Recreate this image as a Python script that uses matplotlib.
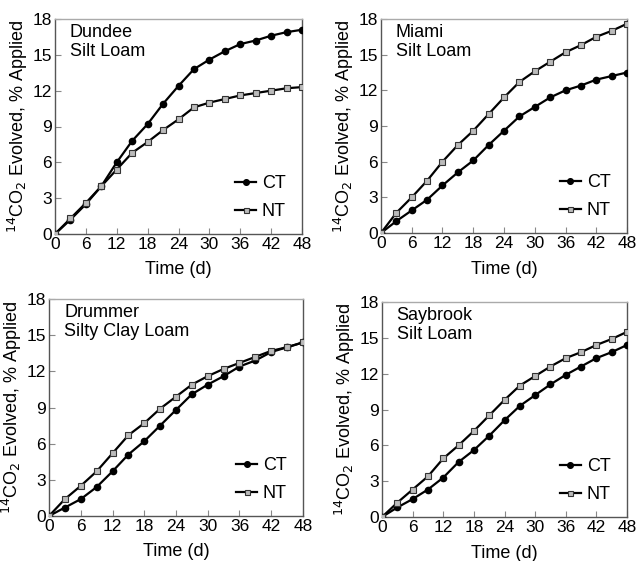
import numpy as np
import matplotlib.pyplot as plt

plt.rcParams['font.family'] = ['Liberation Sans', 'DejaVu Sans']

days = [0, 3, 6, 9, 12, 15, 18, 21, 24, 27, 30, 33, 36, 39, 42, 45, 48]

# 土壤名称
soils = ["Dundee\nSilt Loam", "Miami\nSilt Loam", "Drummer\nSilty Clay Loam", "Saybrook\nSilt Loam"]

dundee_ct = [0, 1.2, 2.5, 4.0, 6.0, 7.8, 9.2, 10.9, 12.4, 13.8, 14.6, 15.3, 15.9, 16.2, 16.6, 16.9, 17.1]
dundee_nt = [0, 1.3, 2.6, 4.0, 5.4, 6.8, 7.7, 8.7, 9.6, 10.6, 11.0, 11.3, 11.6, 11.8, 12.0, 12.2, 12.3]

miami_ct = [0, 1.0, 1.9, 2.8, 4.0, 5.1, 6.1, 7.4, 8.6, 9.8, 10.6, 11.4, 12.0, 12.4, 12.9, 13.2, 13.5]
miami_nt = [0, 1.7, 3.0, 4.4, 6.0, 7.4, 8.6, 10.0, 11.4, 12.7, 13.6, 14.4, 15.2, 15.8, 16.5, 17.0, 17.6]

drummer_ct = [0, 0.7, 1.4, 2.4, 3.7, 5.1, 6.2, 7.5, 8.8, 10.1, 10.9, 11.6, 12.4, 12.9, 13.6, 14.0, 14.4]
drummer_nt = [0, 1.4, 2.5, 3.7, 5.2, 6.7, 7.7, 8.9, 9.9, 10.9, 11.6, 12.2, 12.7, 13.2, 13.7, 14.0, 14.4]

saybrook_ct = [0, 0.8, 1.5, 2.3, 3.3, 4.6, 5.6, 6.8, 8.1, 9.3, 10.2, 11.1, 11.9, 12.6, 13.3, 13.8, 14.4]
saybrook_nt = [0, 1.2, 2.3, 3.4, 4.9, 6.0, 7.2, 8.5, 9.8, 11.0, 11.8, 12.6, 13.3, 13.8, 14.4, 14.9, 15.5]

ct_data = [dundee_ct, miami_ct, drummer_ct, saybrook_ct]
nt_data = [dundee_nt, miami_nt, drummer_nt, saybrook_nt]

# 各子图位置 (像素 -> 比例)
W, H = 638, 561
boxes = [(55, 19, 302, 234), (381, 19, 627, 233), (49, 299, 303, 516), (382, 302, 627, 517)]

fig = plt.figure(figsize=(W / 100, H / 100), dpi=100)

for i in range(4):
    x0, y0, x1, y1 = boxes[i]
    ax = fig.add_axes([x0 / W, 1 - y1 / H, (x1 - x0) / W, (y1 - y0) / H])
    ax.plot(days, ct_data[i], color='black', lw=1.6, marker='o', ms=4.5,
            mfc='black', mec='black', label='CT', zorder=3)
    ax.plot(days, nt_data[i], color='black', lw=1.6, marker='s', ms=4,
            mfc='#bbbbbb', mec='#333333', mew=0.8, label='NT', zorder=3)
    ax.set_xlim(0, 48)
    ax.set_ylim(0, 18)
    ax.set_xticks(np.arange(0, 49, 6))
    ax.set_yticks(np.arange(0, 19, 3))
    ax.tick_params(direction='in', length=4, width=0.8, color='#888888',
                   labelsize=12.5, pad=2)
    for s in ['left', 'bottom', 'right']:
        ax.spines[s].set_color('#555555')
        ax.spines[s].set_linewidth(1.0)
    ax.spines['top'].set_color('#aaaaaa')
    ax.spines['top'].set_linewidth(1.0)
    ax.set_xlabel('Time (d)', fontsize=13, labelpad=7)
    ax.set_ylabel('$^{14}$CO$_2$ Evolved, % Applied', fontsize=13, labelpad=2)
    ax.text(0.06, 0.975, soils[i], transform=ax.transAxes, fontsize=13,
            va='top', ha='left', linespacing=1.15)
    ax.legend(loc='lower right', bbox_to_anchor=(1.0, -0.01), frameon=False,
              handlelength=1.2, handletextpad=0.3, labelspacing=0.6,
              fontsize=13, markerscale=0.9)

plt.savefig('out.png', dpi=100)
